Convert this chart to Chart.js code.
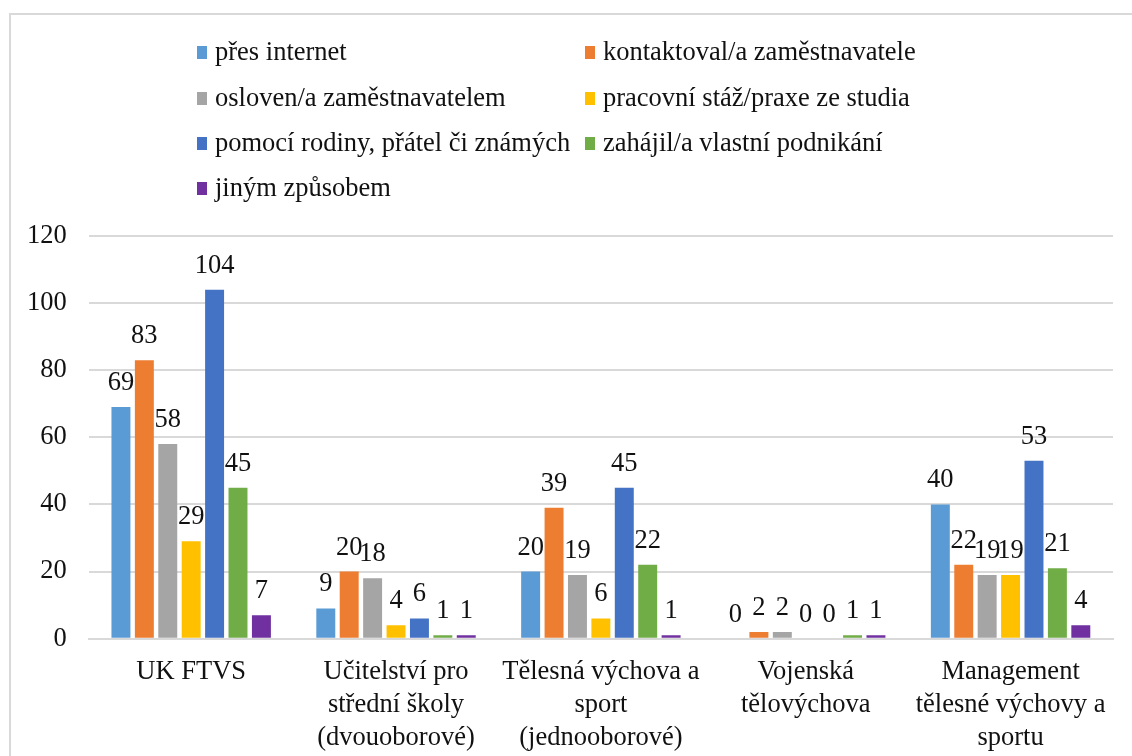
<!DOCTYPE html>
<html>
<head>
<meta charset="utf-8">
<script src="https://cdn.jsdelivr.net/npm/chart.js@4"></script>
<style>
  html, body { margin: 0; padding: 0; background: #fff; }
  #wrap { position: relative; width: 1132px; height: 756px; overflow: hidden; }
  #frame { position: absolute; left: 9px; top: 13px; width: 1200px; height: 800px; border: 2px solid #d9d9d9; }
  #c { position: absolute; left: 0; top: 0; }
</style>
</head>
<body>
<div id="wrap">
  <div id="frame"></div>
  <canvas id="c" width="1132" height="756"></canvas>
</div>
<script>
// data
const categories = [
  'UK FTVS',
  ['Učitelství pro', 'střední školy', '(dvouoborové)'],
  ['Tělesná výchova a', 'sport', '(jednooborové)'],
  ['Vojenská', 'tělovýchova'],
  ['Management', 'tělesné výchovy a', 'sportu']
];
const seriesNames = [
  'přes internet',
  'kontaktoval/a zaměstnavatele',
  'osloven/a zaměstnavatelem',
  'pracovní stáž/praxe ze studia',
  'pomocí rodiny, přátel či známých',
  'zahájil/a vlastní podnikání',
  'jiným způsobem'
];
const internet    = [69, 9, 20, 0, 40];
const kontaktoval = [83, 20, 39, 2, 22];
const osloven     = [58, 18, 19, 2, 19];
const staz        = [29, 4, 6, 0, 19];
const rodina      = [104, 6, 45, 0, 53];
const podnikani   = [45, 1, 22, 1, 21];
const jinak       = [7, 1, 1, 1, 4];
const seriesColors = ['#5B9BD5', '#ED7D31', '#A5A5A5', '#FFC000', '#4472C4', '#70AD47', '#7030A0'];
const yTicks = [0, 20, 40, 60, 80, 100, 120];

const FONT = "'Liberation Serif', 'Times New Roman', serif";
const FS = 26.5;
Chart.defaults.font.family = FONT;
Chart.defaults.font.size = FS;
Chart.defaults.color = '#111';

const allValues = [internet, kontaktoval, osloven, staz, rodina, podnikani, jinak];

// value labels above each bar
const valueLabels = {
  id: 'valueLabels',
  afterDatasetsDraw(chart) {
    const ctx = chart.ctx;
    ctx.save();
    ctx.font = FS + 'px ' + FONT;
    ctx.fillStyle = '#111';
    ctx.textAlign = 'center';
    ctx.textBaseline = 'alphabetic';
    chart.data.datasets.forEach((ds, i) => {
      chart.getDatasetMeta(i).data.forEach((bar, j) => {
        ctx.fillText(String(ds.data[j]), bar.x, bar.y - 17);
      });
    });
    ctx.restore();
  }
};

// two-column legend like the original
const gridLegend = {
  id: 'gridLegend',
  afterDraw(chart) {
    const ctx = chart.ctx;
    const colX = [197, 585];
    const rowY = [52, 98, 143, 188];
    ctx.save();
    ctx.font = FS + 'px ' + FONT;
    ctx.textBaseline = 'middle';
    ctx.textAlign = 'left';
    chart.data.datasets.forEach((ds, i) => {
      const x = colX[i % 2];
      const y = rowY[Math.floor(i / 2)];
      ctx.fillStyle = ds.backgroundColor;
      ctx.fillRect(x, y - 6, 10, 13);
      ctx.fillStyle = '#111';
      ctx.fillText(ds.label, x + 18, y + 1);
    });
    ctx.restore();
  }
};

new Chart(document.getElementById('c'), {
  type: 'bar',
  data: {
    labels: categories,
    datasets: seriesNames.map((name, i) => ({
      label: name,
      data: allValues[i],
      backgroundColor: seriesColors[i],
      categoryPercentage: 0.8,
      barPercentage: 0.81
    }))
  },
  options: {
    responsive: false,
    animation: false,
    layout: { padding: { top: 236, left: 5, right: 19, bottom: -16 } },
    plugins: {
      legend: { display: false },
      tooltip: { enabled: false }
    },
    scales: {
      x: {
        grid: { display: false, drawTicks: false },
        border: { color: '#d9d9d9', width: 2 },
        ticks: { padding: 17, font: { size: FS, lineHeight: 1.25 }, maxRotation: 0, autoSkip: false }
      },
      y: {
        min: 0,
        max: 120,
        afterBuildTicks: (axis) => { axis.ticks = yTicks.map(v => ({ value: v })); },
        grid: { color: '#d9d9d9', lineWidth: 2, drawTicks: false },
        border: { display: false },
        ticks: { padding: 22, font: { size: FS } }
      }
    }
  },
  plugins: [valueLabels, gridLegend]
});
</script>
</body>
</html>
